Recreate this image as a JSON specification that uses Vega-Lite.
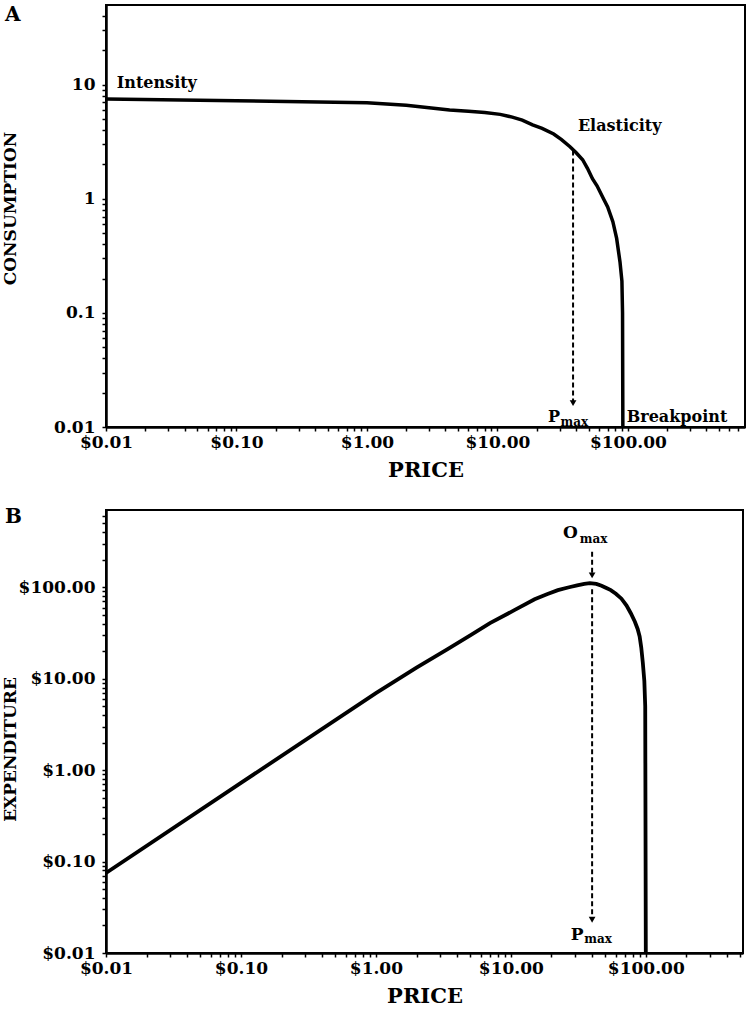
{
  "$schema": "https://vega.github.io/schema/vega-lite/v6.json",
  "background": "white",
  "padding": {"left": 0, "top": 4, "right": 3, "bottom": 0},
  "spacing": 83,
  "bounds": "flush",
  "config": {
    "view": {"stroke": "black", "strokeWidth": 2},
    "font": "DejaVu Serif",
    "axis": {
      "grid": false, "domainColor": "black", "domainWidth": 2.5,
      "tickColor": "black", "tickWidth": 1.5, "tickSize": 4,
      "labelFont": "DejaVu Serif", "labelFontWeight": "bold", "labelFontSize": 17, "labelColor": "black",
      "titleFont": "DejaVu Serif", "titleFontWeight": "bold", "titleColor": "black",
      "labelFlush": false, "labelOverlap": false, "labelBound": false
    },
    "axisX": {"titleFontSize": 21, "labelPadding": 3, "titlePadding": 9},
    "axisY": {"titleFontSize": 17, "labelPadding": 7, "titleX": -87},
    "title": {"font": "DejaVu Serif", "fontWeight": "bold", "fontSize": 20, "anchor": "start", "frame": "bounds", "baseline": "top", "offset": -24, "dx": 4, "dy": -4, "color": "black"}
  },
  "datasets": {
    "curveA": [
      {"price": 0.01, "v": 7.5}, {"price": 0.1, "v": 7.25}, {"price": 1, "v": 6.95}, {"price": 2, "v": 6.6},
      {"price": 4.3, "v": 6.0}, {"price": 6, "v": 5.85}, {"price": 8, "v": 5.7}, {"price": 10.5, "v": 5.5},
      {"price": 13, "v": 5.2}, {"price": 15.5, "v": 4.9}, {"price": 18.6, "v": 4.45}, {"price": 22, "v": 4.15},
      {"price": 27, "v": 3.7}, {"price": 31, "v": 3.3}, {"price": 36, "v": 2.86}, {"price": 40, "v": 2.55},
      {"price": 45, "v": 2.2}, {"price": 49, "v": 1.85}, {"price": 53.5, "v": 1.5}, {"price": 58, "v": 1.3},
      {"price": 65, "v": 1.0}, {"price": 70, "v": 0.85}, {"price": 76.7, "v": 0.63}, {"price": 82, "v": 0.45},
      {"price": 87, "v": 0.28}, {"price": 90, "v": 0.19}, {"price": 91, "v": 0.1}, {"price": 91.5, "v": 0.01}
    ],
    "labelsA": [
      {"price": 0.0121, "v": 10.4, "label": "Intensity"},
      {"price": 41.4, "v": 4.37, "label": "Elasticity"},
      {"price": 98, "v": 0.0123, "label": "Breakpoint"},
      {"price": 24.4, "v": 0.0122, "label": "P"}
    ],
    "subsA": [{"price": 30.5, "v": 0.0111, "label": "max"}],
    "rulesA": [{"price": 38, "v": 2.65, "v2": 0.0165}],
    "arrowsA": [{"price": 38, "v": 0.0162}],
    "curveB": [
      {"price": 0.01, "v": 0.075}, {"price": 0.1, "v": 0.725}, {"price": 1, "v": 6.95}, {"price": 2, "v": 13.2},
      {"price": 3.4, "v": 21.1}, {"price": 5, "v": 29.7}, {"price": 7, "v": 40.6}, {"price": 10.7, "v": 56.5},
      {"price": 15, "v": 74}, {"price": 18.5, "v": 84}, {"price": 22.3, "v": 93}, {"price": 27, "v": 100},
      {"price": 31, "v": 105}, {"price": 35, "v": 109}, {"price": 38.5, "v": 111}, {"price": 43, "v": 109},
      {"price": 47, "v": 104}, {"price": 51, "v": 98}, {"price": 55, "v": 93}, {"price": 60, "v": 85},
      {"price": 66, "v": 75}, {"price": 72, "v": 63}, {"price": 77.4, "v": 52}, {"price": 83, "v": 42},
      {"price": 87, "v": 35}, {"price": 90, "v": 29}, {"price": 92.5, "v": 22}, {"price": 95, "v": 15},
      {"price": 97.5, "v": 9.5}, {"price": 99, "v": 5}, {"price": 100, "v": 0.01}
    ],
    "labelsB": [
      {"price": 24.3, "v": 392, "label": "O"},
      {"price": 27.8, "v": 0.0158, "label": "P"}
    ],
    "subsB": [
      {"price": 32.4, "v": 336, "label": "max"},
      {"price": 35, "v": 0.0143, "label": "max"}
    ],
    "rulesB": [
      {"price": 40, "v": 244, "v2": 135},
      {"price": 40, "v": 95, "v2": 0.0231}
    ],
    "arrowsB": [{"price": 40, "v": 135}, {"price": 40, "v": 0.0231}]
  },
  "vconcat": [
    {
      "title": {"text": "A"},
      "width": 639,
      "height": 422,
      "encoding": {
        "x": {
          "field": "price", "type": "quantitative",
          "scale": {"type": "log", "domain": [0.01, 790], "nice": false},
          "axis": {
            "title": "PRICE",
            "values": [0.01,0.02,0.03,0.04,0.05,0.06,0.07,0.08,0.09,0.1,0.2,0.3,0.4,0.5,0.6,0.7,0.8,0.9,1,2,3,4,5,6,7,8,9,10,20,30,40,50,60,70,80,90,100,200,300,400,500,600,700],
            "labelExpr": "indexof([0.01,0.1,1,10,100], datum.value) >= 0 ? format(datum.value, '$.2f') : ''"
          }
        },
        "y": {
          "field": "v", "type": "quantitative",
          "scale": {"type": "log", "domain": [0.01, 50], "nice": false},
          "axis": {
            "title": "CONSUMPTION",
            "titleY": 203,
            "values": [0.01,0.02,0.03,0.04,0.05,0.06,0.07,0.08,0.09,0.1,0.2,0.3,0.4,0.5,0.6,0.7,0.8,0.9,1,2,3,4,5,6,7,8,9,10,20,30,40],
            "labelExpr": "indexof([0.01,0.1,1,10], datum.value) >= 0 ? format(datum.value, '~g') : ''"
          }
        }
      },
      "layer": [
        {"data": {"name": "curveA"}, "mark": {"type": "line", "color": "black", "strokeWidth": 3.5, "clip": true}},
        {"data": {"name": "rulesA"}, "mark": {"type": "rule", "color": "black", "strokeWidth": 2, "strokeDash": [5, 3]}, "encoding": {"y2": {"field": "v2"}}},
        {"data": {"name": "arrowsA"}, "mark": {"type": "point", "shape": "triangle-down", "filled": true, "color": "black", "size": 45, "opacity": 1}},
        {"data": {"name": "labelsA"}, "mark": {"type": "text", "align": "left", "baseline": "middle", "fontSize": 16, "fontWeight": "bold", "font": "DejaVu Serif", "color": "black"}, "encoding": {"text": {"field": "label"}}},
        {"data": {"name": "subsA"}, "mark": {"type": "text", "align": "left", "baseline": "middle", "fontSize": 12, "fontWeight": "bold", "font": "DejaVu Serif", "color": "black"}, "encoding": {"text": {"field": "label"}}}
      ]
    },
    {
      "title": {"text": "B"},
      "width": 637,
      "height": 443,
      "encoding": {
        "x": {
          "field": "price", "type": "quantitative",
          "scale": {"type": "log", "domain": [0.01, 525], "nice": false},
          "axis": {
            "title": "PRICE",
            "values": [0.01,0.02,0.03,0.04,0.05,0.06,0.07,0.08,0.09,0.1,0.2,0.3,0.4,0.5,0.6,0.7,0.8,0.9,1,2,3,4,5,6,7,8,9,10,20,30,40,50,60,70,80,90,100,200,300,400,500],
            "labelExpr": "indexof([0.01,0.1,1,10,100], datum.value) >= 0 ? format(datum.value, '$.2f') : ''"
          }
        },
        "y": {
          "field": "v", "type": "quantitative",
          "scale": {"type": "log", "domain": [0.01, 700], "nice": false},
          "axis": {
            "title": "EXPENDITURE",
            "titleY": 239,
            "values": [0.01,0.02,0.03,0.04,0.05,0.06,0.07,0.08,0.09,0.1,0.2,0.3,0.4,0.5,0.6,0.7,0.8,0.9,1,2,3,4,5,6,7,8,9,10,20,30,40,50,60,70,80,90,100,200,300,400,500,600],
            "labelExpr": "indexof([0.01,0.1,1,10,100], datum.value) >= 0 ? format(datum.value, '$.2f') : ''"
          }
        }
      },
      "layer": [
        {"data": {"name": "curveB"}, "mark": {"type": "line", "color": "black", "strokeWidth": 3.8, "clip": true}},
        {"data": {"name": "rulesB"}, "mark": {"type": "rule", "color": "black", "strokeWidth": 2, "strokeDash": [5, 3]}, "encoding": {"y2": {"field": "v2"}}},
        {"data": {"name": "arrowsB"}, "mark": {"type": "point", "shape": "triangle-down", "filled": true, "color": "black", "size": 45, "opacity": 1}},
        {"data": {"name": "labelsB"}, "mark": {"type": "text", "align": "left", "baseline": "middle", "fontSize": 17, "fontWeight": "bold", "font": "DejaVu Serif", "color": "black"}, "encoding": {"text": {"field": "label"}}},
        {"data": {"name": "subsB"}, "mark": {"type": "text", "align": "left", "baseline": "middle", "fontSize": 12, "fontWeight": "bold", "font": "DejaVu Serif", "color": "black"}, "encoding": {"text": {"field": "label"}}}
      ]
    }
  ]
}
